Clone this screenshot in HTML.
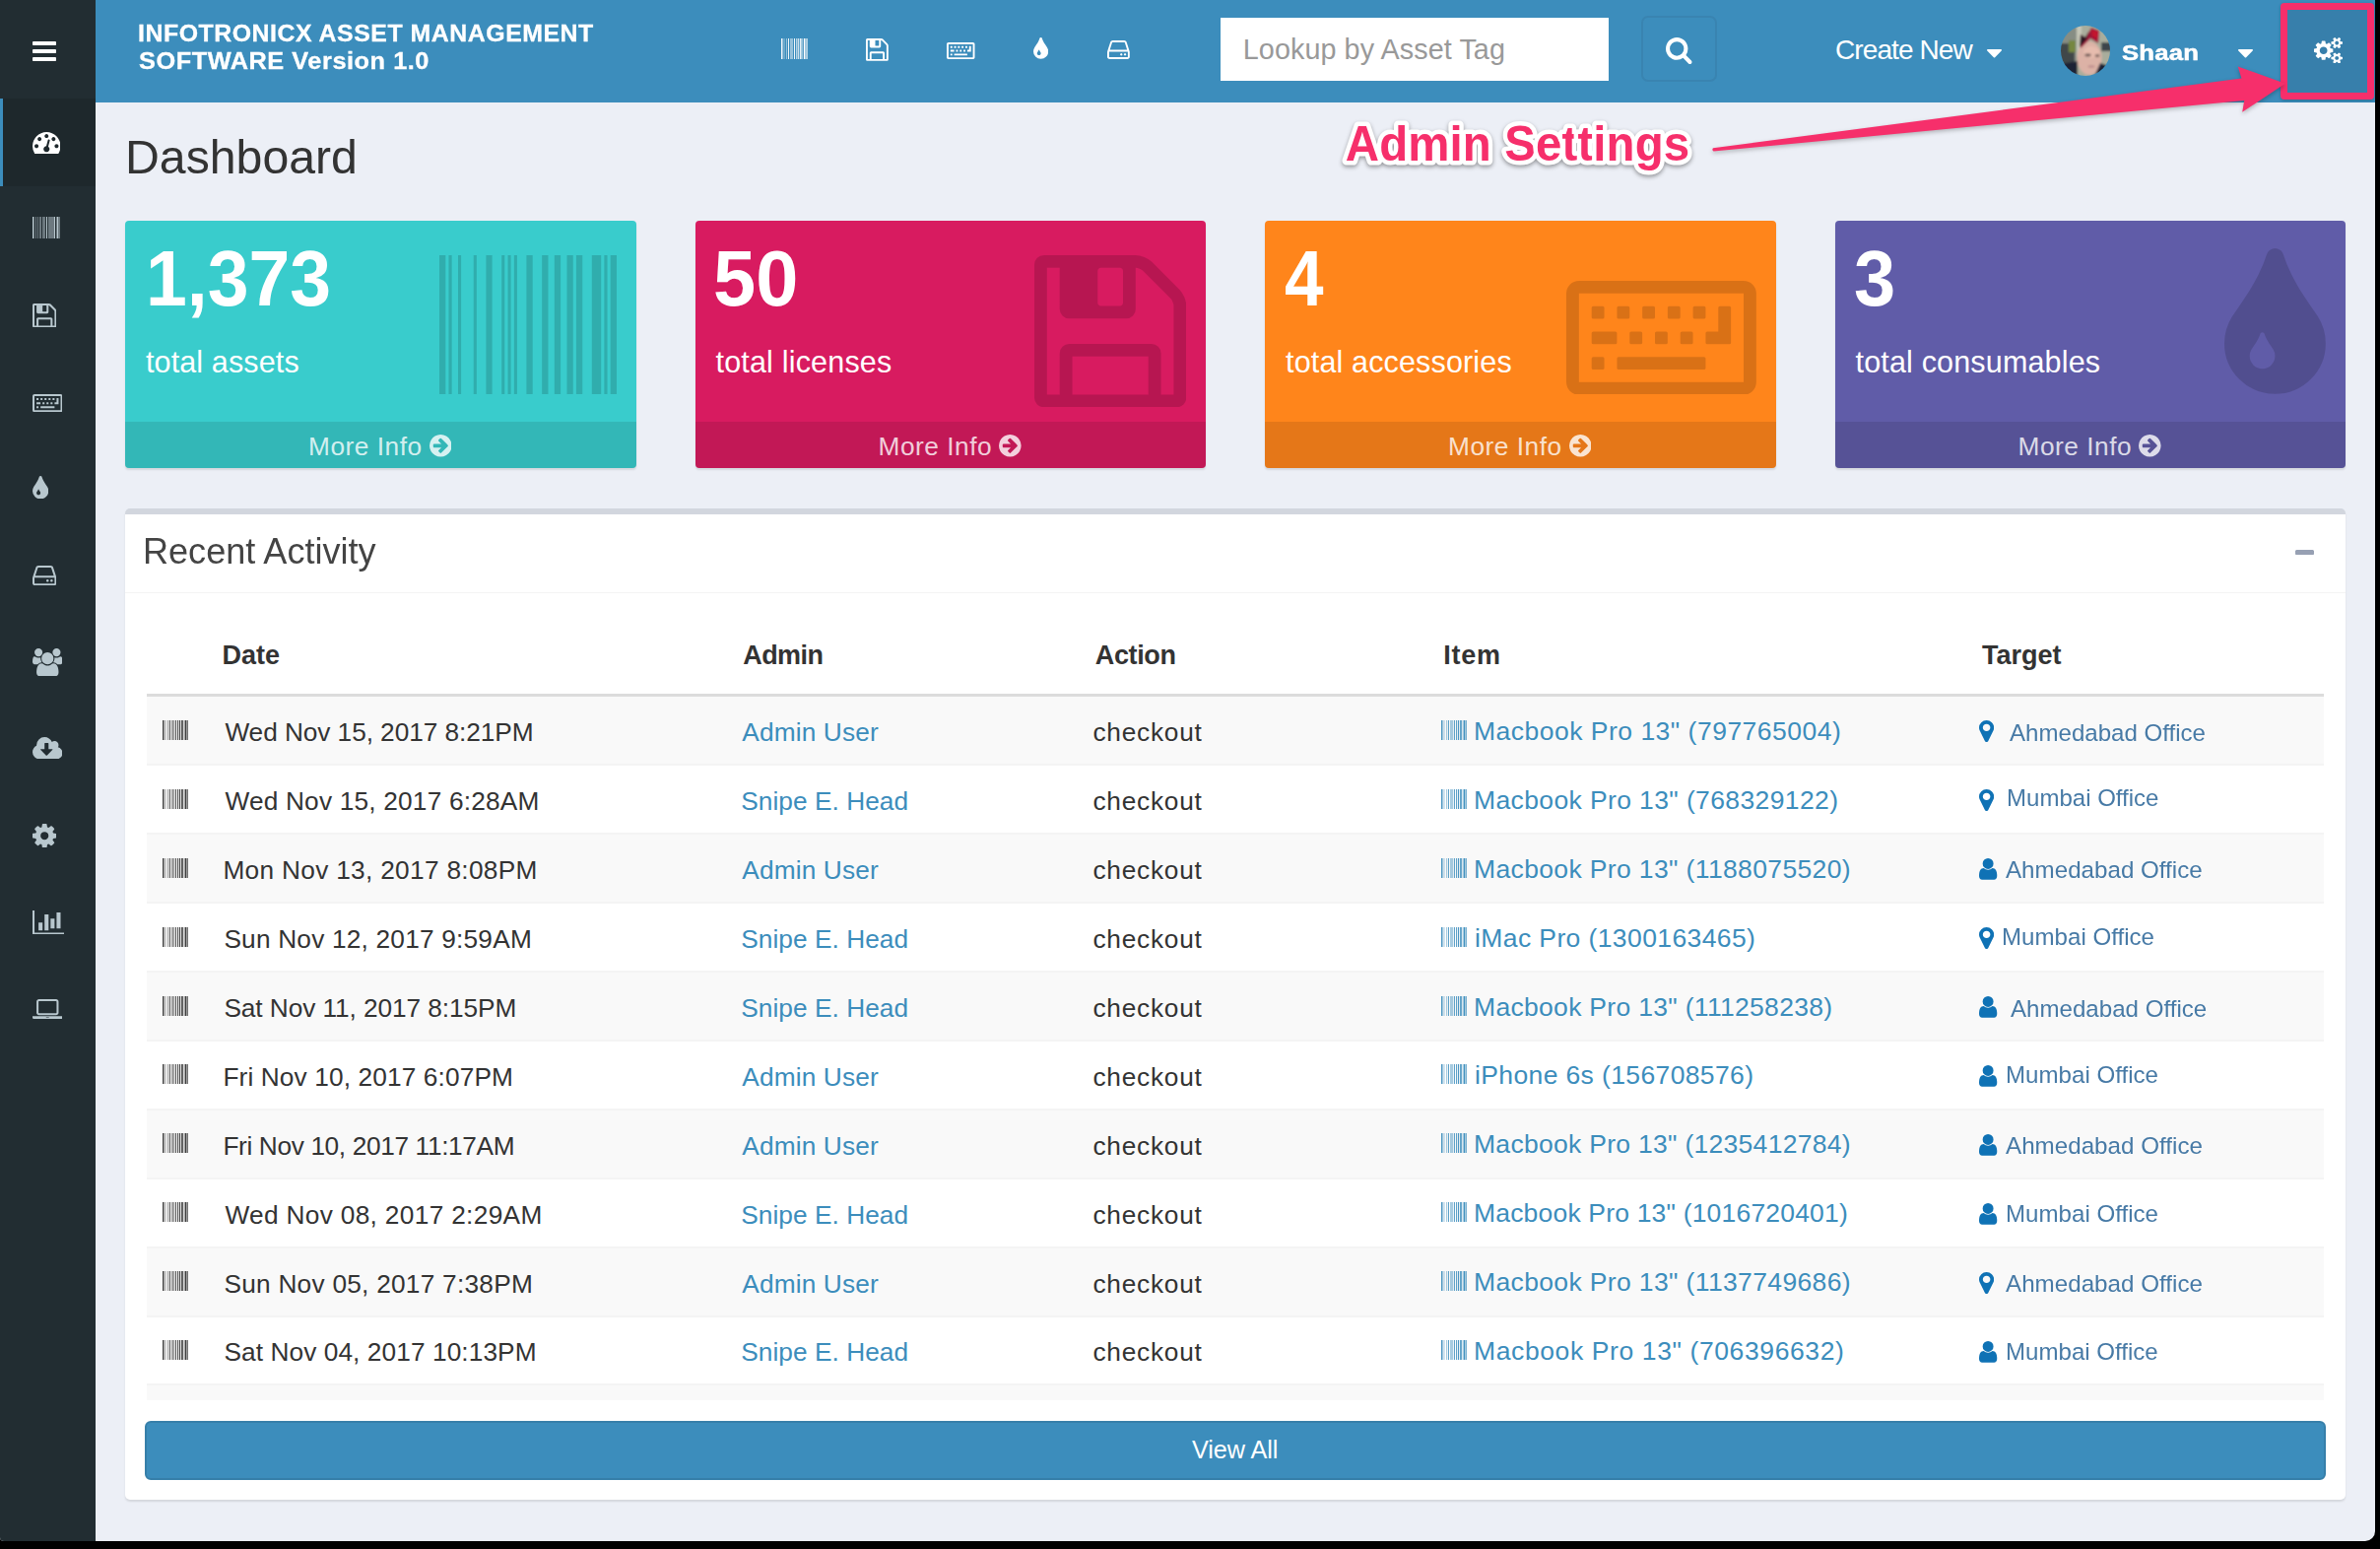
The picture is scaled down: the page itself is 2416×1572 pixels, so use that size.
<!DOCTYPE html>
<html lang="en"><head><meta charset="utf-8"><title>Dashboard</title>
<style>
html,body{margin:0;padding:0;background:#000;}
body{width:2416px;height:1572px;overflow:hidden;position:relative;font-family:"Liberation Sans", sans-serif;}
#app{position:absolute;left:0;top:0;width:2411px;height:1564px;background:#eceff6;border-radius:0 0 10px 4px;overflow:hidden;}
#app div,#app svg,#app span{position:absolute;display:block;}
#app span{white-space:pre;line-height:1;}
</style></head><body><div id="app">
<aside id="sidebar">
<div style="left:0px;top:0px;width:97px;height:1564px;background:#222d32;"></div>
<div style="left:0px;top:100px;width:97px;height:88.5px;background:#1e282c;"></div>
<div style="left:0px;top:100px;width:3px;height:88.5px;background:#3c8dbc;"></div>
<svg style="left:33.00px;top:42.00px;" width="24.00" height="20.00" viewBox="128 256 1536 1280" preserveAspectRatio="none"><path fill="#fff" d="M1664 1344v128q0 26-19 45t-45 19h-1408q-26 0-45-19t-19-45v-128q0-26 19-45t45-19h1408q26 0 45 19t19 45zm0-512v128q0 26-19 45t-45 19h-1408q-26 0-45-19t-19-45v-128q0-26 19-45t45-19h1408q26 0 45 19t19 45zm0-512v128q0 26-19 45t-45 19h-1408q-26 0-45-19t-19-45v-128q0-26 19-45t45-19h1408q26 0 45 19t19 45z"/></svg>
<svg style="left:32.80px;top:133.87px;" width="28.50" height="22.39" viewBox="0 256 1792 1408" preserveAspectRatio="none"><path fill="#fff" d="M384 1152q0-53-37.500-90.500t-90.500-37.500-90.500 37.500-37.500 90.500 37.500 90.500 90.500 37.500 90.500-37.500 37.500-90.500zm192-448q0-53-37.500-90.500t-90.500-37.500-90.500 37.500-37.500 90.500 37.500 90.500 90.500 37.500 90.500-37.500 37.500-90.500zm428 481l101-382q6-26-7.500-48.500t-38.500-29.500-48 6.500-30 39.500l-101 382q-60 5-107 43.500t-63 98.500q-20 77 20 146t117 89 146-20 89-117q16-60-6-117t-72-91zm660-33q0-53-37.500-90.500t-90.500-37.500-90.500 37.500-37.500 90.500 37.500 90.500 90.500 37.500 90.500-37.500 37.500-90.500zm-640-640q0-53-37.500-90.500t-90.500-37.500-90.500 37.500-37.500 90.500 37.500 90.500 90.500 37.500 90.500-37.500 37.500-90.500zm448 192q0-53-37.500-90.500t-90.500-37.500-90.500 37.500-37.500 90.500 37.500 90.500 90.500 37.500 90.500-37.500 37.500-90.500zm320 448q0 261-141 483-19 29-54 29h-1402q-35 0-54-29-141-221-141-483 0-182 71-348t191-286 286-191 348-71 348 71 286 191 191 286 71 348z"/></svg>
<svg style="left:32.80px;top:219.84px;" width="28.50" height="22.39" viewBox="0 128 1792 1408" preserveAspectRatio="none"><path fill="#b8c7ce" d="M63 1536h-63v-1408h63v1408zm63-1h-32v-1407h32v1407zm94 0h-31v-1407h31v1407zm157 0h-31v-1407h31v1407zm157 0h-62v-1407h62v1407zm126 0h-31v-1407h31v1407zm63 0h-31v-1407h31v1407zm63 0h-31v-1407h31v1407zm157 0h-63v-1407h63v1407zm157 0h-63v-1407h63v1407zm126 0h-63v-1407h63v1407zm126 0h-63v-1407h63v1407zm94 0h-63v-1407h63v1407zm189 0h-94v-1407h94v1407zm63 0h-32v-1407h32v1407zm94 1h-63v-1408h63v1408z"/></svg>
<svg style="left:32.80px;top:307.84px;" width="24.43" height="24.43" viewBox="128 128 1536 1536" preserveAspectRatio="none"><path fill="#b8c7ce" d="M512 1536h768v-384h-768v384zm896 0h128v-896q0-14-10-38.500t-20-34.500l-281-281q-10-10-34-20t-39-10v416q0 40-28 68t-68 28h-576q-40 0-68-28t-28-68v-416h-128v1280h128v-416q0-40 28-68t68-28h832q40 0 68 28t28 68v416zm-384-928v-320q0-13-9.500-22.500t-22.500-9.500h-192q-13 0-22.500 9.500t-9.500 22.500v320q0 13 9.500 22.500t22.500 9.500h192q13 0 22.500-9.500t9.500-22.500zm640 32v928q0 40-28 68t-68 28h-1344q-40 0-68-28t-28-68v-1344q0-40 28-68t68-28h928q40 0 88 20t76 48l280 280q28 28 48 76t20 88z"/></svg>
<svg style="left:32.80px;top:399.91px;" width="30.54" height="18.32" viewBox="0 384 1920 1152" preserveAspectRatio="none"><path fill="#b8c7ce" d="M384 1168v96q0 16-16 16h-96q-16 0-16-16v-96q0-16 16-16h96q16 0 16 16zm128-256v96q0 16-16 16h-224q-16 0-16-16v-96q0-16 16-16h224q16 0 16 16zm-128-256v96q0 16-16 16h-96q-16 0-16-16v-96q0-16 16-16h96q16 0 16 16zm1024 512v96q0 16-16 16h-864q-16 0-16-16v-96q0-16 16-16h864q16 0 16 16zm-640-256v96q0 16-16 16h-96q-16 0-16-16v-96q0-16 16-16h96q16 0 16 16zm-128-256v96q0 16-16 16h-96q-16 0-16-16v-96q0-16 16-16h96q16 0 16 16zm384 256v96q0 16-16 16h-96q-16 0-16-16v-96q0-16 16-16h96q16 0 16 16zm-128-256v96q0 16-16 16h-96q-16 0-16-16v-96q0-16 16-16h96q16 0 16 16zm384 256v96q0 16-16 16h-96q-16 0-16-16v-96q0-16 16-16h96q16 0 16 16zm384 512v96q0 16-16 16h-96q-16 0-16-16v-96q0-16 16-16h96q16 0 16 16zm-512-768v96q0 16-16 16h-96q-16 0-16-16v-96q0-16 16-16h96q16 0 16 16zm256 0v96q0 16-16 16h-96q-16 0-16-16v-96q0-16 16-16h96q16 0 16 16zm256 0v352q0 16-16 16h-224q-16 0-16-16v-96q0-16 16-16h112v-240q0-16 16-16h96q16 0 16 16zm128 752v-896h-1664v896h1664zm128-896v896q0 53-37.500 90.500t-90.500 37.500h-1664q-53 0-90.500-37.500t-37.500-90.500v-896q0-53 37.500-90.500t90.500-37.500h1664q53 0 90.500 37.500t37.500 90.500z"/></svg>
<svg style="left:32.80px;top:482.82px;" width="16.29" height="23.41" viewBox="384 64 1024 1472" preserveAspectRatio="none"><path fill="#b8c7ce" d="M896 1152q0-36-20-69-1-1-15.500-22.500t-25.500-38-25-44-21-50.500q-4-16-21-16t-21 16q-7 23-21 50.500t-25 44-25.500 38-15.500 22.500q-20 33-20 69 0 53 37.500 90.500t90.500 37.500 90.500-37.500 37.500-90.500zm512-128q0 212-150 362t-362 150-362-150-150-362q0-145 81-275 6-9 62.500-90.500t101-151 99.500-178 83-201.500q9-30 34-47t51-17 51.500 17 33.500 47q28 93 83 201.500t99.500 178 101 151 62.500 90.500q81 127 81 275z"/></svg>
<svg style="left:32.80px;top:573.87px;" width="24.43" height="20.36" viewBox="0 256 1536 1280" preserveAspectRatio="none"><path fill="#b8c7ce" d="M1040 1216q0 33-23.500 56.500t-56.500 23.500-56.500-23.500-23.500-56.500 23.500-56.500 56.500-23.500 56.500 23.500 23.500 56.500zm256 0q0 33-23.500 56.500t-56.500 23.500-56.500-23.500-23.500-56.500 23.500-56.500 56.500-23.500 56.500 23.500 23.500 56.500zm112 160v-320q0-13-9.500-22.500t-22.500-9.500h-1216q-13 0-22.500 9.500t-9.500 22.500v320q0 13 9.500 22.500t22.500 9.500h1216q13 0 22.500-9.500t9.500-22.500zm-1230-480h1180l-157-482q-4-13-16-21.500t-26-8.500h-782q-14 0-26 8.500t-16 21.500zm1358 160v320q0 66-47 113t-113 47h-1216q-66 0-113-47t-47-113v-320q0-25 16-75l197-606q17-53 63-86t101-33h782q55 0 101 33t63 86l197 606q16 50 16 75z"/></svg>
<svg style="left:32.80px;top:657.80px;" width="30.54" height="28.50" viewBox="0 0 1920 1792" preserveAspectRatio="none"><path fill="#b8c7ce" d="M593 896q-162 5-265 128h-134q-82 0-138-40.500t-56-118.500q0-353 124-353 6 0 43.500 21t97.500 42.500 119 21.500q67 0 133-23-5 37-5 66 0 139 81 256zm1071 637q0 120-73 189.500t-194 69.500h-874q-121 0-194-69.500t-73-189.500q0-53 3.500-103.500t14-109 26.500-108.500 43-97.500 62-81 85.500-53.500 111.500-20q10 0 43 21.500t73 48 107 48 135 21.500 135-21.500 107-48 73-48 43-21.500q61 0 111.500 20t85.500 53.500 62 81 43 97.500 26.500 108.500 14 109 3.500 103.500zm-1024-1277q0 106-75 181t-181 75-181-75-75-181 75-181 181-75 181 75 75 181zm704 384q0 159-112.500 271.500t-271.500 112.500-271.500-112.500-112.500-271.500 112.500-271.500 271.500-112.500 271.500 112.500 112.500 271.500zm576 225q0 78-56 118.500t-138 40.500h-134q-103-123-265-128 81-117 81-256 0-29-5-66 66 23 133 23 59 0 119-21.500t97.500-42.500 43.500-21q124 0 124 353zm-128-609q0 106-75 181t-181 75-181-75-75-181 75-181 181-75 181 75 75 181z"/></svg>
<svg style="left:32.80px;top:747.84px;" width="30.54" height="22.39" viewBox="0 128 1920 1408" preserveAspectRatio="none"><path fill="#b8c7ce" d="M1280 928q0-14-9-23t-23-9h-224v-352q0-13-9.500-22.500t-22.500-9.500h-192q-13 0-22.500 9.500t-9.500 22.500v352h-224q-13 0-22.500 9.500t-9.500 22.500q0 14 9 23l352 352q9 9 23 9t23-9l351-351q10-12 10-24zm640 224q0 159-112.500 271.500t-271.500 112.500h-1088q-185 0-316.500-131.500t-131.500-316.500q0-130 70-240t188-165q-2-30-2-43 0-212 150-362t362-150q156 0 285.500 87t188.500 231q71-62 166-62 106 0 181 75t75 181q0 76-41 138 130 31 213.500 135.500t83.500 238.500z"/></svg>
<svg style="left:32.80px;top:835.84px;" width="24.43" height="24.43" viewBox="128 128 1536 1536" preserveAspectRatio="none"><path fill="#b8c7ce" d="M1152 896q0-106-75-181t-181-75-181 75-75 181 75 181 181 75 181-75 75-181zm512-109v222q0 12-8 23t-20 13l-185 28q-19 54-39 91 35 50 107 138 10 12 10 25t-9 23q-27 37-99 108t-94 71q-12 0-26-9l-138-108q-44 23-91 38-16 136-29 186-7 28-36 28h-222q-14 0-24.500-8.500t-11.500-21.500l-28-184q-49-16-90-37l-141 107q-10 9-25 9-14 0-25-11-126-114-165-168-7-10-7-23 0-12 8-23 15-21 51-66.500t54-70.500q-27-50-41-99l-183-27q-13-2-21-12.500t-8-23.500v-222q0-12 8-23t19-13l186-28q14-46 39-92-40-57-107-138-10-12-10-24 0-10 9-23 26-36 98.500-107.500t94.500-71.500q13 0 26 10l138 107q44-23 91-38 16-136 29-186 7-28 36-28h222q14 0 24.500 8.500t11.500 21.500l28 184q49 16 90 37l142-107q9-9 24-9 13 0 25 10 129 119 165 170 7 8 7 22 0 12-8 23-15 21-51 66.500t-54 70.500q26 50 41 98l183 28q13 2 21 12.500t8 23.500z"/></svg>
<svg style="left:32.80px;top:923.84px;" width="32.57" height="24.43" viewBox="0 128 2048 1536" preserveAspectRatio="none"><path fill="#b8c7ce" d="M640 896v512h-256v-512h256zm384-512v1024h-256v-1024h256zm1024 1152v128h-2048v-1536h128v1408h1920zm-640-896v640h-256v-640h256zm384-384v1024h-256v-1024h256z"/></svg>
<svg style="left:32.80px;top:1013.87px;" width="30.54" height="20.36" viewBox="0 256 1920 1280" preserveAspectRatio="none"><path fill="#b8c7ce" d="M416 1280q-66 0-113-47t-47-113v-704q0-66 47-113t113-47h1088q66 0 113 47t47 113v704q0 66-47 113t-113 47h-1088zm-32-864v704q0 13 9.500 22.500t22.500 9.500h1088q13 0 22.500-9.500t9.500-22.500v-704q0-13-9.500-22.500t-22.500-9.500h-1088q-13 0-22.500 9.500t-9.500 22.500zm1376 928h160v96q0 40-47 68t-113 28h-1600q-66 0-113-28t-47-68v-96h1760zm-720 96q16 0 16-16t-16-16h-160q-16 0-16 16t16 16h160z"/></svg>
</aside>
<header id="topbar">
<div style="left:97px;top:0px;width:2314px;height:104px;background:#3c8dbc;"></div>
<svg style="left:793.00px;top:39.00px;" width="26.60" height="20.90" viewBox="0 128 1792 1408" preserveAspectRatio="none"><path fill="#fff" d="M63 1536h-63v-1408h63v1408zm63-1h-32v-1407h32v1407zm94 0h-31v-1407h31v1407zm157 0h-31v-1407h31v1407zm157 0h-62v-1407h62v1407zm126 0h-31v-1407h31v1407zm63 0h-31v-1407h31v1407zm63 0h-31v-1407h31v1407zm157 0h-63v-1407h63v1407zm157 0h-63v-1407h63v1407zm126 0h-63v-1407h63v1407zm126 0h-63v-1407h63v1407zm94 0h-63v-1407h63v1407zm189 0h-94v-1407h94v1407zm63 0h-32v-1407h32v1407zm94 1h-63v-1408h63v1408z"/></svg>
<svg style="left:879.00px;top:39.00px;" width="22.80" height="22.80" viewBox="128 128 1536 1536" preserveAspectRatio="none"><path fill="#fff" d="M512 1536h768v-384h-768v384zm896 0h128v-896q0-14-10-38.500t-20-34.500l-281-281q-10-10-34-20t-39-10v416q0 40-28 68t-68 28h-576q-40 0-68-28t-28-68v-416h-128v1280h128v-416q0-40 28-68t68-28h832q40 0 68 28t28 68v416zm-384-928v-320q0-13-9.500-22.500t-22.500-9.500h-192q-13 0-22.500 9.500t-9.500 22.500v320q0 13 9.500 22.500t22.500 9.500h192q13 0 22.500-9.500t9.500-22.500zm640 32v928q0 40-28 68t-68 28h-1344q-40 0-68-28t-28-68v-1344q0-40 28-68t68-28h928q40 0 88 20t76 48l280 280q28 28 48 76t20 88z"/></svg>
<svg style="left:961.00px;top:42.80px;" width="28.50" height="17.10" viewBox="0 384 1920 1152" preserveAspectRatio="none"><path fill="#fff" d="M384 1168v96q0 16-16 16h-96q-16 0-16-16v-96q0-16 16-16h96q16 0 16 16zm128-256v96q0 16-16 16h-224q-16 0-16-16v-96q0-16 16-16h224q16 0 16 16zm-128-256v96q0 16-16 16h-96q-16 0-16-16v-96q0-16 16-16h96q16 0 16 16zm1024 512v96q0 16-16 16h-864q-16 0-16-16v-96q0-16 16-16h864q16 0 16 16zm-640-256v96q0 16-16 16h-96q-16 0-16-16v-96q0-16 16-16h96q16 0 16 16zm-128-256v96q0 16-16 16h-96q-16 0-16-16v-96q0-16 16-16h96q16 0 16 16zm384 256v96q0 16-16 16h-96q-16 0-16-16v-96q0-16 16-16h96q16 0 16 16zm-128-256v96q0 16-16 16h-96q-16 0-16-16v-96q0-16 16-16h96q16 0 16 16zm384 256v96q0 16-16 16h-96q-16 0-16-16v-96q0-16 16-16h96q16 0 16 16zm384 512v96q0 16-16 16h-96q-16 0-16-16v-96q0-16 16-16h96q16 0 16 16zm-512-768v96q0 16-16 16h-96q-16 0-16-16v-96q0-16 16-16h96q16 0 16 16zm256 0v96q0 16-16 16h-96q-16 0-16-16v-96q0-16 16-16h96q16 0 16 16zm256 0v352q0 16-16 16h-224q-16 0-16-16v-96q0-16 16-16h112v-240q0-16 16-16h96q16 0 16 16zm128 752v-896h-1664v896h1664zm128-896v896q0 53-37.500 90.500t-90.500 37.500h-1664q-53 0-90.500-37.500t-37.500-90.500v-896q0-53 37.500-90.500t90.500-37.500h1664q53 0 90.500 37.500t37.500 90.500z"/></svg>
<svg style="left:1049.00px;top:38.05px;" width="15.20" height="21.85" viewBox="384 64 1024 1472" preserveAspectRatio="none"><path fill="#fff" d="M896 1152q0-36-20-69-1-1-15.500-22.500t-25.500-38-25-44-21-50.500q-4-16-21-16t-21 16q-7 23-21 50.500t-25 44-25.500 38-15.500 22.500q-20 33-20 69 0 53 37.500 90.500t90.500 37.500 90.500-37.500 37.500-90.500zm512-128q0 212-150 362t-362 150-362-150-150-362q0-145 81-275 6-9 62.500-90.500t101-151 99.500-178 83-201.500q9-30 34-47t51-17 51.500 17 33.500 47q28 93 83 201.500t99.500 178 101 151 62.500 90.500q81 127 81 275z"/></svg>
<svg style="left:1124.00px;top:40.90px;" width="22.80" height="19.00" viewBox="0 256 1536 1280" preserveAspectRatio="none"><path fill="#fff" d="M1040 1216q0 33-23.500 56.500t-56.500 23.500-56.500-23.500-23.500-56.500 23.500-56.500 56.500-23.500 56.500 23.500 23.500 56.500zm256 0q0 33-23.500 56.500t-56.500 23.500-56.500-23.500-23.500-56.500 23.500-56.500 56.500-23.500 56.500 23.500 23.500 56.500zm112 160v-320q0-13-9.500-22.500t-22.500-9.500h-1216q-13 0-22.500 9.500t-9.500 22.500v320q0 13 9.500 22.500t22.500 9.500h1216q13 0 22.500-9.500t9.500-22.500zm-1230-480h1180l-157-482q-4-13-16-21.500t-26-8.500h-782q-14 0-26 8.500t-16 21.500zm1358 160v320q0 66-47 113t-113 47h-1216q-66 0-113-47t-47-113v-320q0-25 16-75l197-606q17-53 63-86t101-33h782q55 0 101 33t63 86l197 606q16 50 16 75z"/></svg>
<div style="left:1238.75px;top:18px;width:394.25px;height:63.75px;background:#fff;"></div>
<div style="left:1665.5px;top:16px;width:77.5px;height:67px;background:#3c8dbc;border:2px solid #3984b1;border-radius:7px;box-sizing:border-box;"></div>
<svg style="left:1691.00px;top:37.50px;" width="26.50" height="27.00" viewBox="64 128 1664 1664" preserveAspectRatio="none"><path fill="#fff" d="M1216 832q0-185-131.500-316.500t-316.500-131.500-316.500 131.500-131.500 316.500 131.500 316.500 316.500 131.500 316.500-131.500 131.500-316.500zm512 832q0 52-38 90t-90 38q-54 0-90-38l-343-342q-179 124-399 124-143 0-273.500-55.500t-225-150-150-225-55.500-273.500 55.500-273.500 150-225 225-150 273.500-55.500 273.500 55.500 225 150 150 225 55.500 273.500q0 220-124 399l343 343q37 37 37 90z"/></svg>
<svg style="left:2017.00px;top:50.00px;" width="15.00" height="8.50" viewBox="384 640 1024 576" preserveAspectRatio="none"><path fill="#fff" d="M1408 704q0 26-19 45l-448 448q-19 19-45 19t-45-19l-448-448q-19-19-19-45t19-45 45-19h896q26 0 45 19t19 45z"/></svg>
<svg style="left:2092px;top:25.5px" width="50" height="51" viewBox="0 0 50 51"><defs><clipPath id="av"><ellipse cx="25" cy="25.5" rx="25" ry="25.5"/></clipPath><filter id="avb" x="-10%" y="-10%" width="120%" height="120%"><feGaussianBlur stdDeviation="1.1"/></filter></defs><g clip-path="url(#av)"><g filter="url(#avb)"><rect x="-5" y="-5" width="60" height="61" fill="#a9ad9c"/><rect x="-5" y="-5" width="21" height="61" fill="#868d84"/><rect x="-5" y="18" width="19" height="26" fill="#41464a"/><rect x="8" y="15" width="7" height="12" fill="#74873f"/><rect x="41" y="17" width="14" height="9" fill="#3d444b"/><rect x="16" y="0" width="5" height="32" fill="#c6c7b8"/><ellipse cx="29" cy="33" rx="12.5" ry="17" fill="#dcb2a6"/><ellipse cx="31" cy="27" rx="8" ry="6" fill="#e6bcae"/><path d="M20 23 L20 9 L25 12 L31 2 L39 5 L38 18 L30 13 Z" fill="#9c1238"/><path d="M31 4 L38 6 L37 14 L32 11 Z" fill="#c4122f"/><path d="M19 22 L20 9 L25 12 L28 6 L26 14 Z" fill="#2a1820"/><path d="M-5 40 L17 36 L17 56 L-5 56 Z" fill="#1a2236"/><path d="M32 56 L40 38 L55 43 L55 56 Z" fill="#1a2236"/><ellipse cx="27.5" cy="30" rx="3.2" ry="1.4" fill="#6b5652"/><ellipse cx="37" cy="30.5" rx="2.4" ry="1.3" fill="#6b5652"/><ellipse cx="31" cy="41.5" rx="3.5" ry="1.1" fill="#b88588"/></g></g></svg>
<svg style="left:2272.00px;top:50.00px;" width="15.00" height="8.50" viewBox="384 640 1024 576" preserveAspectRatio="none"><path fill="#fff" d="M1408 704q0 26-19 45l-448 448q-19 19-45 19t-45-19l-448-448q-19-19-19-45t19-45 45-19h896q26 0 45 19t19 45z"/></svg>
<div style="left:2318px;top:6px;width:89px;height:92px;background:#377fab;"></div>
<svg style="left:2349.00px;top:37.50px;" width="29.00" height="26.50" viewBox="0 16 1920 1761" preserveAspectRatio="none"><path fill="#fff" d="M896 896q0-106-75-181t-181-75-181 75-75 181 75 181 181 75 181-75 75-181zm768 512q0-52-38-90t-90-38-90 38-38 90q0 53 37.500 90.500t90.500 37.500 90.500-37.500 37.500-90.500zm0-1024q0-52-38-90t-90-38-90 38-38 90q0 53 37.500 90.500t90.500 37.500 90.500-37.500 37.500-90.500zm-384 421v185q0 10-7 19.500t-16 10.500l-155 24q-11 35-32 76 34 48 90 115 7 11 7 20 0 12-7 19-23 30-82.500 89.500t-78.500 59.500q-11 0-21-7l-115-90q-37 19-77 31-11 108-23 155-7 24-30 24h-186q-11 0-20-7.500t-10-17.500l-23-153q-34-10-75-31l-118 89q-7 7-20 7-11 0-21-8-144-133-144-160 0-9 7-19 10-14 41-53t47-61q-23-44-35-82l-152-24q-10-1-17-9.500t-7-19.500v-185q0-10 7-19.500t16-10.500l155-24q11-35 32-76-34-48-90-115-7-11-7-20 0-12 7-20 22-30 82-89t79-59q11 0 21 7l115 90q34-18 77-32 11-108 23-154 7-24 30-24h186q11 0 20 7.500t10 17.500l23 153q34 10 75 31l118-89q8-7 20-7 11 0 21 8 144 133 144 160 0 8-7 19-12 16-42 54t-45 60q23 48 34 82l152 23q10 2 17 10.500t7 19.500zm640 533v140q0 16-149 31-12 27-30 52 51 113 51 138 0 4-4 7-122 71-124 71-8 0-46-47t-52-68q-20 2-30 2t-30-2q-14 21-52 68t-46 47q-2 0-124-71-4-3-4-7 0-25 51-138-18-25-30-52-149-15-149-31v-140q0-16 149-31 13-29 30-52-51-113-51-138 0-4 4-7 4-2 35-20t59-34 30-16q8 0 46 46.500t52 67.500q20-2 30-2t30 2q51-71 92-112l6-2q4 0 124 70 4 3 4 7 0 25-51 138 17 23 30 52 149 15 149 31zm0-1024v140q0 16-149 31-12 27-30 52 51 113 51 138 0 4-4 7-122 71-124 71-8 0-46-47t-52-68q-20 2-30 2t-30-2q-14 21-52 68t-46 47q-2 0-124-71-4-3-4-7 0-25 51-138-18-25-30-52-149-15-149-31v-140q0-16 149-31 13-29 30-52-51-113-51-138 0-4 4-7 4-2 35-20t59-34 30-16q8 0 46 46.500t52 67.500q20-2 30-2t30 2q51-71 92-112l6-2q4 0 124 70 4 3 4 7 0 25-51 138 17 23 30 52 149 15 149 31z"/></svg>
<span style="left:140.03px;top:23.01px;font-size:23.25px;font-weight:bold;color:#fff;letter-spacing:0.500px;-webkit-text-stroke:0.3px #fff;transform:scaleX(1.0690);transform-origin:0 0;">INFOTRONICX ASSET MANAGEMENT</span>
<span style="left:141.10px;top:51.00px;font-size:23.25px;font-weight:bold;color:#fff;letter-spacing:0.500px;-webkit-text-stroke:0.3px #fff;transform:scaleX(1.0885);transform-origin:0 0;">SOFTWARE Version 1.0</span>
<span style="left:1261.75px;top:36.01px;font-size:28.75px;font-weight:normal;color:#999;letter-spacing:0.074px;">Lookup by Asset Tag</span>
<span style="left:1863.00px;top:37.00px;font-size:28px;font-weight:normal;color:#fff;letter-spacing:-0.901px;">Create New</span>
<span style="left:2154.00px;top:43.00px;font-size:21.75px;font-weight:bold;color:#fff;letter-spacing:0.200px;-webkit-text-stroke:0.5px #fff;transform:scaleX(1.1808);transform-origin:0 0;">Shaan</span>
</header>
<main id="content">
<div style="left:127px;top:224.25px;width:518.75px;height:250.75px;background:#39cccc;border-radius:4px;box-shadow:0 2px 2px rgba(0,0,0,.1);"></div>
<div style="left:127px;top:428px;width:518.75px;height:47px;background:rgba(0,0,0,.1);border-radius:0 0 4px 4px;"></div>
<svg style="left:445.75px;top:258.86px;" width="180.00" height="141.43" viewBox="0 128 1792 1408" preserveAspectRatio="none"><path fill="rgba(0,0,0,.15)" d="M63 1536h-63v-1408h63v1408zm63-1h-32v-1407h32v1407zm94 0h-31v-1407h31v1407zm157 0h-31v-1407h31v1407zm157 0h-62v-1407h62v1407zm126 0h-31v-1407h31v1407zm63 0h-31v-1407h31v1407zm63 0h-31v-1407h31v1407zm157 0h-63v-1407h63v1407zm157 0h-63v-1407h63v1407zm126 0h-63v-1407h63v1407zm126 0h-63v-1407h63v1407zm94 0h-63v-1407h63v1407zm189 0h-94v-1407h94v1407zm63 0h-32v-1407h32v1407zm94 1h-63v-1408h63v1408z"/></svg>
<svg style="left:435.75px;top:441.00px;" width="22.60" height="22.60" viewBox="128 128 1536 1536" preserveAspectRatio="none"><path fill="rgba(255,255,255,.8)" d="M1413 896q0-27-18-45l-91-91-362-362q-18-18-45-18t-45 18l-91 91q-18 18-18 45t18 45l189 189h-502q-26 0-45 19t-19 45v128q0 26 19 45t45 19h502l-189 189q-19 19-19 45t19 45l91 91q18 18 45 18t45-18l362-362 91-91q18-18 18-45zm251 0q0 209-103 385.500t-279.500 279.500-385.500 103-385.500-103-279.500-279.500-103-385.500 103-385.500 279.500-279.500 385.500-103 385.500 103 279.500 279.500 103 385.500z"/></svg>
<div style="left:705.5px;top:224.25px;width:518.75px;height:250.75px;background:#d81b60;border-radius:4px;box-shadow:0 2px 2px rgba(0,0,0,.1);"></div>
<div style="left:705.5px;top:428px;width:518.75px;height:47px;background:rgba(0,0,0,.1);border-radius:0 0 4px 4px;"></div>
<svg style="left:1049.96px;top:258.86px;" width="154.29" height="154.29" viewBox="128 128 1536 1536" preserveAspectRatio="none"><path fill="rgba(0,0,0,.15)" d="M512 1536h768v-384h-768v384zm896 0h128v-896q0-14-10-38.500t-20-34.500l-281-281q-10-10-34-20t-39-10v416q0 40-28 68t-68 28h-576q-40 0-68-28t-28-68v-416h-128v1280h128v-416q0-40 28-68t68-28h832q40 0 68 28t28 68v416zm-384-928v-320q0-13-9.500-22.500t-22.500-9.500h-192q-13 0-22.500 9.500t-9.500 22.500v320q0 13 9.500 22.500t22.500 9.500h192q13 0 22.500-9.500t9.500-22.500zm640 32v928q0 40-28 68t-68 28h-1344q-40 0-68-28t-28-68v-1344q0-40 28-68t68-28h928q40 0 88 20t76 48l280 280q28 28 48 76t20 88z"/></svg>
<svg style="left:1014.25px;top:441.00px;" width="22.60" height="22.60" viewBox="128 128 1536 1536" preserveAspectRatio="none"><path fill="rgba(255,255,255,.8)" d="M1413 896q0-27-18-45l-91-91-362-362q-18-18-45-18t-45 18l-91 91q-18 18-18 45t18 45l189 189h-502q-26 0-45 19t-19 45v128q0 26 19 45t45 19h502l-189 189q-19 19-19 45t19 45l91 91q18 18 45 18t45-18l362-362 91-91q18-18 18-45zm251 0q0 209-103 385.500t-279.500 279.500-385.500 103-385.500-103-279.500-279.500-103-385.500 103-385.500 279.500-279.500 385.500-103 385.500 103 279.500 279.500 103 385.500z"/></svg>
<div style="left:1284px;top:224.25px;width:518.75px;height:250.75px;background:#ff851b;border-radius:4px;box-shadow:0 2px 2px rgba(0,0,0,.1);"></div>
<div style="left:1284px;top:428px;width:518.75px;height:47px;background:rgba(0,0,0,.1);border-radius:0 0 4px 4px;"></div>
<svg style="left:1589.89px;top:284.57px;" width="192.86" height="115.71" viewBox="0 384 1920 1152" preserveAspectRatio="none"><path fill="rgba(0,0,0,.15)" d="M384 1168v96q0 16-16 16h-96q-16 0-16-16v-96q0-16 16-16h96q16 0 16 16zm128-256v96q0 16-16 16h-224q-16 0-16-16v-96q0-16 16-16h224q16 0 16 16zm-128-256v96q0 16-16 16h-96q-16 0-16-16v-96q0-16 16-16h96q16 0 16 16zm1024 512v96q0 16-16 16h-864q-16 0-16-16v-96q0-16 16-16h864q16 0 16 16zm-640-256v96q0 16-16 16h-96q-16 0-16-16v-96q0-16 16-16h96q16 0 16 16zm-128-256v96q0 16-16 16h-96q-16 0-16-16v-96q0-16 16-16h96q16 0 16 16zm384 256v96q0 16-16 16h-96q-16 0-16-16v-96q0-16 16-16h96q16 0 16 16zm-128-256v96q0 16-16 16h-96q-16 0-16-16v-96q0-16 16-16h96q16 0 16 16zm384 256v96q0 16-16 16h-96q-16 0-16-16v-96q0-16 16-16h96q16 0 16 16zm384 512v96q0 16-16 16h-96q-16 0-16-16v-96q0-16 16-16h96q16 0 16 16zm-512-768v96q0 16-16 16h-96q-16 0-16-16v-96q0-16 16-16h96q16 0 16 16zm256 0v96q0 16-16 16h-96q-16 0-16-16v-96q0-16 16-16h96q16 0 16 16zm256 0v352q0 16-16 16h-224q-16 0-16-16v-96q0-16 16-16h112v-240q0-16 16-16h96q16 0 16 16zm128 752v-896h-1664v896h1664zm128-896v896q0 53-37.500 90.500t-90.500 37.500h-1664q-53 0-90.500-37.500t-37.500-90.500v-896q0-53 37.500-90.500t90.500-37.500h1664q53 0 90.500 37.500t37.500 90.500z"/></svg>
<svg style="left:1592.75px;top:441.00px;" width="22.60" height="22.60" viewBox="128 128 1536 1536" preserveAspectRatio="none"><path fill="rgba(255,255,255,.8)" d="M1413 896q0-27-18-45l-91-91-362-362q-18-18-45-18t-45 18l-91 91q-18 18-18 45t18 45l189 189h-502q-26 0-45 19t-19 45v128q0 26 19 45t45 19h502l-189 189q-19 19-19 45t19 45l91 91q18 18 45 18t45-18l362-362 91-91q18-18 18-45zm251 0q0 209-103 385.500t-279.500 279.500-385.500 103-385.500-103-279.500-279.500-103-385.500 103-385.500 279.500-279.500 385.500-103 385.500 103 279.500 279.500 103 385.500z"/></svg>
<div style="left:1862.5px;top:224.25px;width:518.75px;height:250.75px;background:#605ca8;border-radius:4px;box-shadow:0 2px 2px rgba(0,0,0,.1);"></div>
<div style="left:1862.5px;top:428px;width:518.75px;height:47px;background:rgba(0,0,0,.1);border-radius:0 0 4px 4px;"></div>
<svg style="left:2258.39px;top:252.43px;" width="102.86" height="147.86" viewBox="384 64 1024 1472" preserveAspectRatio="none"><path fill="rgba(0,0,0,.15)" d="M896 1152q0-36-20-69-1-1-15.500-22.500t-25.500-38-25-44-21-50.500q-4-16-21-16t-21 16q-7 23-21 50.500t-25 44-25.500 38-15.500 22.500q-20 33-20 69 0 53 37.500 90.500t90.500 37.500 90.500-37.500 37.500-90.500zm512-128q0 212-150 362t-362 150-362-150-150-362q0-145 81-275 6-9 62.500-90.500t101-151 99.500-178 83-201.500q9-30 34-47t51-17 51.500 17 33.500 47q28 93 83 201.500t99.500 178 101 151 62.500 90.500q81 127 81 275z"/></svg>
<svg style="left:2171.25px;top:441.00px;" width="22.60" height="22.60" viewBox="128 128 1536 1536" preserveAspectRatio="none"><path fill="rgba(255,255,255,.8)" d="M1413 896q0-27-18-45l-91-91-362-362q-18-18-45-18t-45 18l-91 91q-18 18-18 45t18 45l189 189h-502q-26 0-45 19t-19 45v128q0 26 19 45t45 19h502l-189 189q-19 19-19 45t19 45l91 91q18 18 45 18t45-18l362-362 91-91q18-18 18-45zm251 0q0 209-103 385.500t-279.500 279.500-385.500 103-385.500-103-279.500-279.500-103-385.500 103-385.500 279.500-279.500 385.500-103 385.500 103 279.500 279.500 103 385.500z"/></svg>
<span style="left:126.52px;top:135.01px;font-size:48.5px;font-weight:normal;color:#333;letter-spacing:0.000px;transform:scaleX(0.9944);transform-origin:0 0;">Dashboard</span>
<span style="left:147.78px;top:244.01px;font-size:78.75px;font-weight:bold;color:#fff;letter-spacing:0.000px;transform:scaleX(0.9544);transform-origin:0 0;">1,373</span>
<span style="left:148.00px;top:352.01px;font-size:30.5px;font-weight:normal;color:#fff;letter-spacing:0.125px;">total assets</span>
<span style="left:313.00px;top:440.01px;font-size:26.25px;font-weight:normal;color:rgba(255,255,255,.8);letter-spacing:0.527px;">More Info</span>
<span style="left:724.03px;top:244.01px;font-size:78.75px;font-weight:bold;color:#fff;letter-spacing:0.000px;transform:scaleX(0.9855);transform-origin:0 0;">50</span>
<span style="left:726.50px;top:352.01px;font-size:30.5px;font-weight:normal;color:#fff;letter-spacing:0.187px;">total licenses</span>
<span style="left:891.50px;top:440.01px;font-size:26.25px;font-weight:normal;color:rgba(255,255,255,.8);letter-spacing:0.527px;">More Info</span>
<span style="left:1303.80px;top:244.01px;font-size:78.75px;font-weight:bold;color:#fff;letter-spacing:0.000px;transform:scaleX(0.9023);transform-origin:0 0;">4</span>
<span style="left:1305.00px;top:352.01px;font-size:30.5px;font-weight:normal;color:#fff;letter-spacing:0.156px;">total accessories</span>
<span style="left:1470.00px;top:440.01px;font-size:26.25px;font-weight:normal;color:rgba(255,255,255,.8);letter-spacing:0.527px;">More Info</span>
<span style="left:1882.04px;top:244.01px;font-size:78.75px;font-weight:bold;color:#fff;letter-spacing:0.000px;transform:scaleX(0.9625);transform-origin:0 0;">3</span>
<span style="left:1883.50px;top:352.01px;font-size:30.5px;font-weight:normal;color:#fff;letter-spacing:0.170px;">total consumables</span>
<span style="left:2048.50px;top:440.01px;font-size:26.25px;font-weight:normal;color:rgba(255,255,255,.8);letter-spacing:0.527px;">More Info</span>
</main>
<section id="recent-activity">
<div style="left:127px;top:516px;width:2254.25px;height:1006px;background:#fff;border-top:6px solid #d2d6de;border-radius:5px;box-sizing:border-box;box-shadow:0 2px 2px rgba(0,0,0,.1);"></div>
<svg style="left:2330.00px;top:557.80px;" width="19.00" height="5.20" viewBox="192 640 1408 384" preserveAspectRatio="none"><path fill="#97a0b3" d="M1600 736v192q0 40-28 68t-68 28h-1216q-40 0-68-28t-28-68v-192q0-40 28-68t68-28h1216q40 0 68 28t28 68z"/></svg>
<div style="left:127px;top:600.5px;width:2254.25px;height:1.5px;background:#f4f4f4;"></div>
<div style="left:149px;top:704px;width:2210.25px;height:3px;background:#dcdcdc;"></div>
<div style="left:149px;top:707px;width:2210.25px;height:68px;background:#f9f9f9;"></div>
<svg style="left:165.00px;top:730.75px;" width="26.25" height="20.00" viewBox="0 128 1792 1408" preserveAspectRatio="none"><path fill="#333" d="M63 1536h-63v-1408h63v1408zm63-1h-32v-1407h32v1407zm94 0h-31v-1407h31v1407zm157 0h-31v-1407h31v1407zm157 0h-62v-1407h62v1407zm126 0h-31v-1407h31v1407zm63 0h-31v-1407h31v1407zm63 0h-31v-1407h31v1407zm157 0h-63v-1407h63v1407zm157 0h-63v-1407h63v1407zm126 0h-63v-1407h63v1407zm126 0h-63v-1407h63v1407zm94 0h-63v-1407h63v1407zm189 0h-94v-1407h94v1407zm63 0h-32v-1407h32v1407zm94 1h-63v-1408h63v1408z"/></svg>
<svg style="left:1463.00px;top:730.75px;" width="26.25" height="20.00" viewBox="0 128 1792 1408" preserveAspectRatio="none"><path fill="#3c8dbc" d="M63 1536h-63v-1408h63v1408zm63-1h-32v-1407h32v1407zm94 0h-31v-1407h31v1407zm157 0h-31v-1407h31v1407zm157 0h-62v-1407h62v1407zm126 0h-31v-1407h31v1407zm63 0h-31v-1407h31v1407zm63 0h-31v-1407h31v1407zm157 0h-63v-1407h63v1407zm157 0h-63v-1407h63v1407zm126 0h-63v-1407h63v1407zm126 0h-63v-1407h63v1407zm94 0h-63v-1407h63v1407zm189 0h-94v-1407h94v1407zm63 0h-32v-1407h32v1407zm94 1h-63v-1408h63v1408z"/></svg>
<svg style="left:2008.75px;top:730.80px;" width="15.20" height="22.00" viewBox="384 128 1024 1536" preserveAspectRatio="none"><path fill="#0f72b5" d="M1152 640q0-106-75-181t-181-75-181 75-75 181 75 181 181 75 181-75 75-181zm256 0q0 109-33 179l-364 774q-16 33-47.500 52t-67.500 19-67.500-19-46.500-52l-365-774q-33-70-33-179 0-212 150-362t362-150 362 150 150 362z"/></svg>
<div style="left:149px;top:775px;width:2210.25px;height:2px;background:#f4f4f4;"></div>
<svg style="left:165.00px;top:800.69px;" width="26.25" height="20.00" viewBox="0 128 1792 1408" preserveAspectRatio="none"><path fill="#333" d="M63 1536h-63v-1408h63v1408zm63-1h-32v-1407h32v1407zm94 0h-31v-1407h31v1407zm157 0h-31v-1407h31v1407zm157 0h-62v-1407h62v1407zm126 0h-31v-1407h31v1407zm63 0h-31v-1407h31v1407zm63 0h-31v-1407h31v1407zm157 0h-63v-1407h63v1407zm157 0h-63v-1407h63v1407zm126 0h-63v-1407h63v1407zm126 0h-63v-1407h63v1407zm94 0h-63v-1407h63v1407zm189 0h-94v-1407h94v1407zm63 0h-32v-1407h32v1407zm94 1h-63v-1408h63v1408z"/></svg>
<svg style="left:1463.00px;top:800.69px;" width="26.25" height="20.00" viewBox="0 128 1792 1408" preserveAspectRatio="none"><path fill="#3c8dbc" d="M63 1536h-63v-1408h63v1408zm63-1h-32v-1407h32v1407zm94 0h-31v-1407h31v1407zm157 0h-31v-1407h31v1407zm157 0h-62v-1407h62v1407zm126 0h-31v-1407h31v1407zm63 0h-31v-1407h31v1407zm63 0h-31v-1407h31v1407zm157 0h-63v-1407h63v1407zm157 0h-63v-1407h63v1407zm126 0h-63v-1407h63v1407zm126 0h-63v-1407h63v1407zm94 0h-63v-1407h63v1407zm189 0h-94v-1407h94v1407zm63 0h-32v-1407h32v1407zm94 1h-63v-1408h63v1408z"/></svg>
<svg style="left:2008.75px;top:800.80px;" width="15.20" height="22.00" viewBox="384 128 1024 1536" preserveAspectRatio="none"><path fill="#0f72b5" d="M1152 640q0-106-75-181t-181-75-181 75-75 181 75 181 181 75 181-75 75-181zm256 0q0 109-33 179l-364 774q-16 33-47.500 52t-67.500 19-67.500-19-46.500-52l-365-774q-33-70-33-179 0-212 150-362t362-150 362 150 150 362z"/></svg>
<div style="left:149px;top:844.94px;width:2210.25px;height:69.94px;background:#f9f9f9;"></div>
<div style="left:149px;top:844.94px;width:2210.25px;height:2px;background:#f4f4f4;"></div>
<svg style="left:165.00px;top:870.63px;" width="26.25" height="20.00" viewBox="0 128 1792 1408" preserveAspectRatio="none"><path fill="#333" d="M63 1536h-63v-1408h63v1408zm63-1h-32v-1407h32v1407zm94 0h-31v-1407h31v1407zm157 0h-31v-1407h31v1407zm157 0h-62v-1407h62v1407zm126 0h-31v-1407h31v1407zm63 0h-31v-1407h31v1407zm63 0h-31v-1407h31v1407zm157 0h-63v-1407h63v1407zm157 0h-63v-1407h63v1407zm126 0h-63v-1407h63v1407zm126 0h-63v-1407h63v1407zm94 0h-63v-1407h63v1407zm189 0h-94v-1407h94v1407zm63 0h-32v-1407h32v1407zm94 1h-63v-1408h63v1408z"/></svg>
<svg style="left:1463.00px;top:870.63px;" width="26.25" height="20.00" viewBox="0 128 1792 1408" preserveAspectRatio="none"><path fill="#3c8dbc" d="M63 1536h-63v-1408h63v1408zm63-1h-32v-1407h32v1407zm94 0h-31v-1407h31v1407zm157 0h-31v-1407h31v1407zm157 0h-62v-1407h62v1407zm126 0h-31v-1407h31v1407zm63 0h-31v-1407h31v1407zm63 0h-31v-1407h31v1407zm157 0h-63v-1407h63v1407zm157 0h-63v-1407h63v1407zm126 0h-63v-1407h63v1407zm126 0h-63v-1407h63v1407zm94 0h-63v-1407h63v1407zm189 0h-94v-1407h94v1407zm63 0h-32v-1407h32v1407zm94 1h-63v-1408h63v1408z"/></svg>
<svg style="left:2009.25px;top:871.25px;" width="18.25" height="21.75" viewBox="256 128 1280 1536" preserveAspectRatio="none"><path fill="#0f72b5" d="M1536 1399q0 109-62.500 187t-150.500 78h-854q-88 0-150.500-78t-62.500-187q0-85 8.500-160.500t31.500-152 58.500-131 94-89 134.500-34.500q131 128 313 128t313-128q76 0 134.500 34.500t94 89 58.500 131 31.500 152 8.500 160.500zm-256-887q0 159-112.500 271.500t-271.500 112.500-271.500-112.500-112.500-271.500 112.500-271.500 271.500-112.500 271.500 112.500 112.500 271.500z"/></svg>
<div style="left:149px;top:914.88px;width:2210.25px;height:2px;background:#f4f4f4;"></div>
<svg style="left:165.00px;top:940.57px;" width="26.25" height="20.00" viewBox="0 128 1792 1408" preserveAspectRatio="none"><path fill="#333" d="M63 1536h-63v-1408h63v1408zm63-1h-32v-1407h32v1407zm94 0h-31v-1407h31v1407zm157 0h-31v-1407h31v1407zm157 0h-62v-1407h62v1407zm126 0h-31v-1407h31v1407zm63 0h-31v-1407h31v1407zm63 0h-31v-1407h31v1407zm157 0h-63v-1407h63v1407zm157 0h-63v-1407h63v1407zm126 0h-63v-1407h63v1407zm126 0h-63v-1407h63v1407zm94 0h-63v-1407h63v1407zm189 0h-94v-1407h94v1407zm63 0h-32v-1407h32v1407zm94 1h-63v-1408h63v1408z"/></svg>
<svg style="left:1463.00px;top:940.57px;" width="26.25" height="20.00" viewBox="0 128 1792 1408" preserveAspectRatio="none"><path fill="#3c8dbc" d="M63 1536h-63v-1408h63v1408zm63-1h-32v-1407h32v1407zm94 0h-31v-1407h31v1407zm157 0h-31v-1407h31v1407zm157 0h-62v-1407h62v1407zm126 0h-31v-1407h31v1407zm63 0h-31v-1407h31v1407zm63 0h-31v-1407h31v1407zm157 0h-63v-1407h63v1407zm157 0h-63v-1407h63v1407zm126 0h-63v-1407h63v1407zm126 0h-63v-1407h63v1407zm94 0h-63v-1407h63v1407zm189 0h-94v-1407h94v1407zm63 0h-32v-1407h32v1407zm94 1h-63v-1408h63v1408z"/></svg>
<svg style="left:2008.75px;top:941.05px;" width="15.20" height="22.00" viewBox="384 128 1024 1536" preserveAspectRatio="none"><path fill="#0f72b5" d="M1152 640q0-106-75-181t-181-75-181 75-75 181 75 181 181 75 181-75 75-181zm256 0q0 109-33 179l-364 774q-16 33-47.500 52t-67.500 19-67.500-19-46.500-52l-365-774q-33-70-33-179 0-212 150-362t362-150 362 150 150 362z"/></svg>
<div style="left:149px;top:984.82px;width:2210.25px;height:69.94px;background:#f9f9f9;"></div>
<div style="left:149px;top:984.82px;width:2210.25px;height:2px;background:#f4f4f4;"></div>
<svg style="left:165.00px;top:1010.51px;" width="26.25" height="20.00" viewBox="0 128 1792 1408" preserveAspectRatio="none"><path fill="#333" d="M63 1536h-63v-1408h63v1408zm63-1h-32v-1407h32v1407zm94 0h-31v-1407h31v1407zm157 0h-31v-1407h31v1407zm157 0h-62v-1407h62v1407zm126 0h-31v-1407h31v1407zm63 0h-31v-1407h31v1407zm63 0h-31v-1407h31v1407zm157 0h-63v-1407h63v1407zm157 0h-63v-1407h63v1407zm126 0h-63v-1407h63v1407zm126 0h-63v-1407h63v1407zm94 0h-63v-1407h63v1407zm189 0h-94v-1407h94v1407zm63 0h-32v-1407h32v1407zm94 1h-63v-1408h63v1408z"/></svg>
<svg style="left:1463.00px;top:1010.51px;" width="26.25" height="20.00" viewBox="0 128 1792 1408" preserveAspectRatio="none"><path fill="#3c8dbc" d="M63 1536h-63v-1408h63v1408zm63-1h-32v-1407h32v1407zm94 0h-31v-1407h31v1407zm157 0h-31v-1407h31v1407zm157 0h-62v-1407h62v1407zm126 0h-31v-1407h31v1407zm63 0h-31v-1407h31v1407zm63 0h-31v-1407h31v1407zm157 0h-63v-1407h63v1407zm157 0h-63v-1407h63v1407zm126 0h-63v-1407h63v1407zm126 0h-63v-1407h63v1407zm94 0h-63v-1407h63v1407zm189 0h-94v-1407h94v1407zm63 0h-32v-1407h32v1407zm94 1h-63v-1408h63v1408z"/></svg>
<svg style="left:2009.25px;top:1011.25px;" width="18.25" height="21.75" viewBox="256 128 1280 1536" preserveAspectRatio="none"><path fill="#0f72b5" d="M1536 1399q0 109-62.500 187t-150.500 78h-854q-88 0-150.500-78t-62.500-187q0-85 8.500-160.500t31.500-152 58.500-131 94-89 134.500-34.500q131 128 313 128t313-128q76 0 134.500 34.500t94 89 58.500 131 31.500 152 8.500 160.500zm-256-887q0 159-112.500 271.500t-271.500 112.500-271.500-112.500-112.500-271.500 112.500-271.500 271.500-112.500 271.500 112.500 112.500 271.500z"/></svg>
<div style="left:149px;top:1054.76px;width:2210.25px;height:2px;background:#f4f4f4;"></div>
<svg style="left:165.00px;top:1080.45px;" width="26.25" height="20.00" viewBox="0 128 1792 1408" preserveAspectRatio="none"><path fill="#333" d="M63 1536h-63v-1408h63v1408zm63-1h-32v-1407h32v1407zm94 0h-31v-1407h31v1407zm157 0h-31v-1407h31v1407zm157 0h-62v-1407h62v1407zm126 0h-31v-1407h31v1407zm63 0h-31v-1407h31v1407zm63 0h-31v-1407h31v1407zm157 0h-63v-1407h63v1407zm157 0h-63v-1407h63v1407zm126 0h-63v-1407h63v1407zm126 0h-63v-1407h63v1407zm94 0h-63v-1407h63v1407zm189 0h-94v-1407h94v1407zm63 0h-32v-1407h32v1407zm94 1h-63v-1408h63v1408z"/></svg>
<svg style="left:1463.00px;top:1080.45px;" width="26.25" height="20.00" viewBox="0 128 1792 1408" preserveAspectRatio="none"><path fill="#3c8dbc" d="M63 1536h-63v-1408h63v1408zm63-1h-32v-1407h32v1407zm94 0h-31v-1407h31v1407zm157 0h-31v-1407h31v1407zm157 0h-62v-1407h62v1407zm126 0h-31v-1407h31v1407zm63 0h-31v-1407h31v1407zm63 0h-31v-1407h31v1407zm157 0h-63v-1407h63v1407zm157 0h-63v-1407h63v1407zm126 0h-63v-1407h63v1407zm126 0h-63v-1407h63v1407zm94 0h-63v-1407h63v1407zm189 0h-94v-1407h94v1407zm63 0h-32v-1407h32v1407zm94 1h-63v-1408h63v1408z"/></svg>
<svg style="left:2009.25px;top:1081.00px;" width="18.25" height="21.75" viewBox="256 128 1280 1536" preserveAspectRatio="none"><path fill="#0f72b5" d="M1536 1399q0 109-62.500 187t-150.500 78h-854q-88 0-150.500-78t-62.500-187q0-85 8.500-160.500t31.500-152 58.500-131 94-89 134.500-34.500q131 128 313 128t313-128q76 0 134.500 34.500t94 89 58.500 131 31.500 152 8.500 160.500zm-256-887q0 159-112.500 271.500t-271.500 112.500-271.500-112.500-112.500-271.500 112.500-271.500 271.500-112.500 271.500 112.500 112.500 271.500z"/></svg>
<div style="left:149px;top:1124.7px;width:2210.25px;height:69.94px;background:#f9f9f9;"></div>
<div style="left:149px;top:1124.7px;width:2210.25px;height:2px;background:#f4f4f4;"></div>
<svg style="left:165.00px;top:1150.39px;" width="26.25" height="20.00" viewBox="0 128 1792 1408" preserveAspectRatio="none"><path fill="#333" d="M63 1536h-63v-1408h63v1408zm63-1h-32v-1407h32v1407zm94 0h-31v-1407h31v1407zm157 0h-31v-1407h31v1407zm157 0h-62v-1407h62v1407zm126 0h-31v-1407h31v1407zm63 0h-31v-1407h31v1407zm63 0h-31v-1407h31v1407zm157 0h-63v-1407h63v1407zm157 0h-63v-1407h63v1407zm126 0h-63v-1407h63v1407zm126 0h-63v-1407h63v1407zm94 0h-63v-1407h63v1407zm189 0h-94v-1407h94v1407zm63 0h-32v-1407h32v1407zm94 1h-63v-1408h63v1408z"/></svg>
<svg style="left:1463.00px;top:1150.39px;" width="26.25" height="20.00" viewBox="0 128 1792 1408" preserveAspectRatio="none"><path fill="#3c8dbc" d="M63 1536h-63v-1408h63v1408zm63-1h-32v-1407h32v1407zm94 0h-31v-1407h31v1407zm157 0h-31v-1407h31v1407zm157 0h-62v-1407h62v1407zm126 0h-31v-1407h31v1407zm63 0h-31v-1407h31v1407zm63 0h-31v-1407h31v1407zm157 0h-63v-1407h63v1407zm157 0h-63v-1407h63v1407zm126 0h-63v-1407h63v1407zm126 0h-63v-1407h63v1407zm94 0h-63v-1407h63v1407zm189 0h-94v-1407h94v1407zm63 0h-32v-1407h32v1407zm94 1h-63v-1408h63v1408z"/></svg>
<svg style="left:2009.25px;top:1151.00px;" width="18.25" height="21.75" viewBox="256 128 1280 1536" preserveAspectRatio="none"><path fill="#0f72b5" d="M1536 1399q0 109-62.500 187t-150.500 78h-854q-88 0-150.500-78t-62.500-187q0-85 8.500-160.500t31.500-152 58.500-131 94-89 134.500-34.500q131 128 313 128t313-128q76 0 134.500 34.500t94 89 58.500 131 31.500 152 8.500 160.500zm-256-887q0 159-112.500 271.500t-271.500 112.500-271.500-112.500-112.500-271.500 112.500-271.500 271.500-112.500 271.500 112.500 112.500 271.500z"/></svg>
<div style="left:149px;top:1194.64px;width:2210.25px;height:2px;background:#f4f4f4;"></div>
<svg style="left:165.00px;top:1220.33px;" width="26.25" height="20.00" viewBox="0 128 1792 1408" preserveAspectRatio="none"><path fill="#333" d="M63 1536h-63v-1408h63v1408zm63-1h-32v-1407h32v1407zm94 0h-31v-1407h31v1407zm157 0h-31v-1407h31v1407zm157 0h-62v-1407h62v1407zm126 0h-31v-1407h31v1407zm63 0h-31v-1407h31v1407zm63 0h-31v-1407h31v1407zm157 0h-63v-1407h63v1407zm157 0h-63v-1407h63v1407zm126 0h-63v-1407h63v1407zm126 0h-63v-1407h63v1407zm94 0h-63v-1407h63v1407zm189 0h-94v-1407h94v1407zm63 0h-32v-1407h32v1407zm94 1h-63v-1408h63v1408z"/></svg>
<svg style="left:1463.00px;top:1220.33px;" width="26.25" height="20.00" viewBox="0 128 1792 1408" preserveAspectRatio="none"><path fill="#3c8dbc" d="M63 1536h-63v-1408h63v1408zm63-1h-32v-1407h32v1407zm94 0h-31v-1407h31v1407zm157 0h-31v-1407h31v1407zm157 0h-62v-1407h62v1407zm126 0h-31v-1407h31v1407zm63 0h-31v-1407h31v1407zm63 0h-31v-1407h31v1407zm157 0h-63v-1407h63v1407zm157 0h-63v-1407h63v1407zm126 0h-63v-1407h63v1407zm126 0h-63v-1407h63v1407zm94 0h-63v-1407h63v1407zm189 0h-94v-1407h94v1407zm63 0h-32v-1407h32v1407zm94 1h-63v-1408h63v1408z"/></svg>
<svg style="left:2009.25px;top:1221.00px;" width="18.25" height="21.75" viewBox="256 128 1280 1536" preserveAspectRatio="none"><path fill="#0f72b5" d="M1536 1399q0 109-62.500 187t-150.500 78h-854q-88 0-150.500-78t-62.500-187q0-85 8.500-160.500t31.500-152 58.500-131 94-89 134.500-34.500q131 128 313 128t313-128q76 0 134.500 34.500t94 89 58.500 131 31.500 152 8.500 160.500zm-256-887q0 159-112.500 271.500t-271.500 112.500-271.500-112.500-112.500-271.500 112.500-271.500 271.500-112.500 271.500 112.500 112.500 271.500z"/></svg>
<div style="left:149px;top:1264.58px;width:2210.25px;height:69.94px;background:#f9f9f9;"></div>
<div style="left:149px;top:1264.58px;width:2210.25px;height:2px;background:#f4f4f4;"></div>
<svg style="left:165.00px;top:1290.27px;" width="26.25" height="20.00" viewBox="0 128 1792 1408" preserveAspectRatio="none"><path fill="#333" d="M63 1536h-63v-1408h63v1408zm63-1h-32v-1407h32v1407zm94 0h-31v-1407h31v1407zm157 0h-31v-1407h31v1407zm157 0h-62v-1407h62v1407zm126 0h-31v-1407h31v1407zm63 0h-31v-1407h31v1407zm63 0h-31v-1407h31v1407zm157 0h-63v-1407h63v1407zm157 0h-63v-1407h63v1407zm126 0h-63v-1407h63v1407zm126 0h-63v-1407h63v1407zm94 0h-63v-1407h63v1407zm189 0h-94v-1407h94v1407zm63 0h-32v-1407h32v1407zm94 1h-63v-1408h63v1408z"/></svg>
<svg style="left:1463.00px;top:1290.27px;" width="26.25" height="20.00" viewBox="0 128 1792 1408" preserveAspectRatio="none"><path fill="#3c8dbc" d="M63 1536h-63v-1408h63v1408zm63-1h-32v-1407h32v1407zm94 0h-31v-1407h31v1407zm157 0h-31v-1407h31v1407zm157 0h-62v-1407h62v1407zm126 0h-31v-1407h31v1407zm63 0h-31v-1407h31v1407zm63 0h-31v-1407h31v1407zm157 0h-63v-1407h63v1407zm157 0h-63v-1407h63v1407zm126 0h-63v-1407h63v1407zm126 0h-63v-1407h63v1407zm94 0h-63v-1407h63v1407zm189 0h-94v-1407h94v1407zm63 0h-32v-1407h32v1407zm94 1h-63v-1408h63v1408z"/></svg>
<svg style="left:2008.75px;top:1290.80px;" width="15.20" height="22.00" viewBox="384 128 1024 1536" preserveAspectRatio="none"><path fill="#0f72b5" d="M1152 640q0-106-75-181t-181-75-181 75-75 181 75 181 181 75 181-75 75-181zm256 0q0 109-33 179l-364 774q-16 33-47.500 52t-67.500 19-67.500-19-46.500-52l-365-774q-33-70-33-179 0-212 150-362t362-150 362 150 150 362z"/></svg>
<div style="left:149px;top:1334.52px;width:2210.25px;height:2px;background:#f4f4f4;"></div>
<svg style="left:165.00px;top:1360.21px;" width="26.25" height="20.00" viewBox="0 128 1792 1408" preserveAspectRatio="none"><path fill="#333" d="M63 1536h-63v-1408h63v1408zm63-1h-32v-1407h32v1407zm94 0h-31v-1407h31v1407zm157 0h-31v-1407h31v1407zm157 0h-62v-1407h62v1407zm126 0h-31v-1407h31v1407zm63 0h-31v-1407h31v1407zm63 0h-31v-1407h31v1407zm157 0h-63v-1407h63v1407zm157 0h-63v-1407h63v1407zm126 0h-63v-1407h63v1407zm126 0h-63v-1407h63v1407zm94 0h-63v-1407h63v1407zm189 0h-94v-1407h94v1407zm63 0h-32v-1407h32v1407zm94 1h-63v-1408h63v1408z"/></svg>
<svg style="left:1463.00px;top:1360.21px;" width="26.25" height="20.00" viewBox="0 128 1792 1408" preserveAspectRatio="none"><path fill="#3c8dbc" d="M63 1536h-63v-1408h63v1408zm63-1h-32v-1407h32v1407zm94 0h-31v-1407h31v1407zm157 0h-31v-1407h31v1407zm157 0h-62v-1407h62v1407zm126 0h-31v-1407h31v1407zm63 0h-31v-1407h31v1407zm63 0h-31v-1407h31v1407zm157 0h-63v-1407h63v1407zm157 0h-63v-1407h63v1407zm126 0h-63v-1407h63v1407zm126 0h-63v-1407h63v1407zm94 0h-63v-1407h63v1407zm189 0h-94v-1407h94v1407zm63 0h-32v-1407h32v1407zm94 1h-63v-1408h63v1408z"/></svg>
<svg style="left:2009.25px;top:1361.00px;" width="18.25" height="21.75" viewBox="256 128 1280 1536" preserveAspectRatio="none"><path fill="#0f72b5" d="M1536 1399q0 109-62.500 187t-150.500 78h-854q-88 0-150.500-78t-62.500-187q0-85 8.500-160.500t31.500-152 58.500-131 94-89 134.500-34.500q131 128 313 128t313-128q76 0 134.500 34.500t94 89 58.500 131 31.500 152 8.500 160.500zm-256-887q0 159-112.500 271.500t-271.500 112.500-271.500-112.500-112.500-271.500 112.500-271.500 271.500-112.500 271.500 112.500 112.500 271.500z"/></svg>
<div style="left:149px;top:1404.46px;width:2210.25px;height:2px;background:#f4f4f4;"></div>
<div style="left:149px;top:1406.46px;width:2210.25px;height:14.14px;background:#f9f9f9;"></div>
<div style="left:147px;top:1442px;width:2214px;height:59.6px;background:#3c8dbc;border:2px solid #367fa9;border-radius:6px;box-sizing:border-box;"></div>
<span style="left:145.31px;top:542.02px;font-size:36.75px;font-weight:normal;color:#444;letter-spacing:0.000px;transform:scaleX(0.9817);transform-origin:0 0;">Recent Activity</span>
<span style="left:225.50px;top:652.02px;font-size:27px;font-weight:bold;color:#333;letter-spacing:-0.002px;">Date</span>
<span style="left:754.25px;top:652.02px;font-size:27px;font-weight:bold;color:#333;letter-spacing:-0.562px;">Admin</span>
<span style="left:1111.75px;top:652.02px;font-size:27px;font-weight:bold;color:#333;letter-spacing:-0.350px;">Action</span>
<span style="left:1465.25px;top:652.02px;font-size:27px;font-weight:bold;color:#333;letter-spacing:0.747px;">Item</span>
<span style="left:2012.00px;top:652.02px;font-size:27px;font-weight:bold;color:#333;letter-spacing:-0.004px;">Target</span>
<span style="left:228.40px;top:730.01px;font-size:26.25px;font-weight:normal;color:#333;letter-spacing:-0.070px;">Wed Nov 15, 2017 8:21PM</span>
<span style="left:753.25px;top:730.01px;font-size:26.25px;font-weight:normal;color:#3c8dbc;letter-spacing:0.152px;">Admin User</span>
<span style="left:1109.50px;top:730.01px;font-size:26.25px;font-weight:normal;color:#333;letter-spacing:0.747px;">checkout</span>
<span style="left:1496.00px;top:729.01px;font-size:26.5px;font-weight:normal;color:#3c8dbc;letter-spacing:0.492px;">Macbook Pro 13&quot; (797765004)</span>
<span style="left:2040.00px;top:732.00px;font-size:23.75px;font-weight:normal;color:#477aa6;letter-spacing:0.000px;transform:scaleX(1.0136);transform-origin:0 0;">Ahmedabad Office</span>
<span style="left:228.40px;top:800.00px;font-size:26.25px;font-weight:normal;color:#333;letter-spacing:0.194px;">Wed Nov 15, 2017 6:28AM</span>
<span style="left:752.25px;top:800.00px;font-size:26.25px;font-weight:normal;color:#3c8dbc;letter-spacing:0.047px;">Snipe E. Head</span>
<span style="left:1109.50px;top:800.00px;font-size:26.25px;font-weight:normal;color:#333;letter-spacing:0.747px;">checkout</span>
<span style="left:1496.00px;top:799.01px;font-size:26.5px;font-weight:normal;color:#3c8dbc;letter-spacing:0.385px;">Macbook Pro 13&quot; (768329122)</span>
<span style="left:2036.99px;top:798.00px;font-size:23.75px;font-weight:normal;color:#477aa6;letter-spacing:0.000px;transform:scaleX(1.0118);transform-origin:0 0;">Mumbai Office</span>
<span style="left:226.40px;top:870.00px;font-size:26.25px;font-weight:normal;color:#333;letter-spacing:0.309px;">Mon Nov 13, 2017 8:08PM</span>
<span style="left:753.25px;top:870.00px;font-size:26.25px;font-weight:normal;color:#3c8dbc;letter-spacing:0.152px;">Admin User</span>
<span style="left:1109.50px;top:870.00px;font-size:26.25px;font-weight:normal;color:#333;letter-spacing:0.747px;">checkout</span>
<span style="left:1496.00px;top:869.00px;font-size:26.5px;font-weight:normal;color:#3c8dbc;letter-spacing:0.364px;">Macbook Pro 13&quot; (1188075520)</span>
<span style="left:2036.25px;top:871.00px;font-size:23.75px;font-weight:normal;color:#477aa6;letter-spacing:0.000px;transform:scaleX(1.0175);transform-origin:0 0;">Ahmedabad Office</span>
<span style="left:227.40px;top:940.01px;font-size:26.25px;font-weight:normal;color:#333;letter-spacing:0.202px;">Sun Nov 12, 2017 9:59AM</span>
<span style="left:752.25px;top:940.01px;font-size:26.25px;font-weight:normal;color:#3c8dbc;letter-spacing:0.047px;">Snipe E. Head</span>
<span style="left:1109.50px;top:940.01px;font-size:26.25px;font-weight:normal;color:#333;letter-spacing:0.747px;">checkout</span>
<span style="left:1497.00px;top:939.00px;font-size:26.5px;font-weight:normal;color:#3c8dbc;letter-spacing:0.399px;">iMac Pro (1300163465)</span>
<span style="left:2031.98px;top:939.00px;font-size:23.75px;font-weight:normal;color:#477aa6;letter-spacing:0.000px;transform:scaleX(1.0151);transform-origin:0 0;">Mumbai Office</span>
<span style="left:227.40px;top:1010.01px;font-size:26.25px;font-weight:normal;color:#333;letter-spacing:-0.077px;">Sat Nov 11, 2017 8:15PM</span>
<span style="left:752.25px;top:1010.01px;font-size:26.25px;font-weight:normal;color:#3c8dbc;letter-spacing:0.047px;">Snipe E. Head</span>
<span style="left:1109.50px;top:1010.01px;font-size:26.25px;font-weight:normal;color:#333;letter-spacing:0.747px;">checkout</span>
<span style="left:1496.00px;top:1009.00px;font-size:26.5px;font-weight:normal;color:#3c8dbc;letter-spacing:0.309px;">Macbook Pro 13&quot; (111258238)</span>
<span style="left:2040.50px;top:1012.00px;font-size:23.75px;font-weight:normal;color:#477aa6;letter-spacing:0.000px;transform:scaleX(1.0149);transform-origin:0 0;">Ahmedabad Office</span>
<span style="left:226.40px;top:1080.01px;font-size:26.25px;font-weight:normal;color:#333;letter-spacing:0.125px;">Fri Nov 10, 2017 6:07PM</span>
<span style="left:753.25px;top:1080.01px;font-size:26.25px;font-weight:normal;color:#3c8dbc;letter-spacing:0.152px;">Admin User</span>
<span style="left:1109.50px;top:1080.01px;font-size:26.25px;font-weight:normal;color:#333;letter-spacing:0.747px;">checkout</span>
<span style="left:1497.00px;top:1078.01px;font-size:26.5px;font-weight:normal;color:#3c8dbc;letter-spacing:0.375px;">iPhone 6s (156708576)</span>
<span style="left:2035.73px;top:1079.01px;font-size:23.75px;font-weight:normal;color:#477aa6;letter-spacing:0.000px;transform:scaleX(1.0151);transform-origin:0 0;">Mumbai Office</span>
<span style="left:226.40px;top:1150.01px;font-size:26.25px;font-weight:normal;color:#333;letter-spacing:-0.361px;">Fri Nov 10, 2017 11:17AM</span>
<span style="left:753.25px;top:1150.01px;font-size:26.25px;font-weight:normal;color:#3c8dbc;letter-spacing:0.152px;">Admin User</span>
<span style="left:1109.50px;top:1150.01px;font-size:26.25px;font-weight:normal;color:#333;letter-spacing:0.747px;">checkout</span>
<span style="left:1496.00px;top:1148.01px;font-size:26.5px;font-weight:normal;color:#3c8dbc;letter-spacing:0.291px;">Macbook Pro 13&quot; (1235412784)</span>
<span style="left:2036.00px;top:1151.01px;font-size:23.75px;font-weight:normal;color:#477aa6;letter-spacing:0.000px;transform:scaleX(1.0187);transform-origin:0 0;">Ahmedabad Office</span>
<span style="left:228.40px;top:1220.00px;font-size:26.25px;font-weight:normal;color:#333;letter-spacing:0.326px;">Wed Nov 08, 2017 2:29AM</span>
<span style="left:752.25px;top:1220.00px;font-size:26.25px;font-weight:normal;color:#3c8dbc;letter-spacing:0.047px;">Snipe E. Head</span>
<span style="left:1109.50px;top:1220.00px;font-size:26.25px;font-weight:normal;color:#333;letter-spacing:0.747px;">checkout</span>
<span style="left:1496.00px;top:1218.01px;font-size:26.5px;font-weight:normal;color:#3c8dbc;letter-spacing:0.184px;">Macbook Pro 13&quot; (1016720401)</span>
<span style="left:2035.73px;top:1220.01px;font-size:23.75px;font-weight:normal;color:#477aa6;letter-spacing:0.000px;transform:scaleX(1.0151);transform-origin:0 0;">Mumbai Office</span>
<span style="left:227.40px;top:1290.00px;font-size:26.25px;font-weight:normal;color:#333;letter-spacing:0.252px;">Sun Nov 05, 2017 7:38PM</span>
<span style="left:753.25px;top:1290.00px;font-size:26.25px;font-weight:normal;color:#3c8dbc;letter-spacing:0.152px;">Admin User</span>
<span style="left:1109.50px;top:1290.00px;font-size:26.25px;font-weight:normal;color:#333;letter-spacing:0.747px;">checkout</span>
<span style="left:1496.00px;top:1288.01px;font-size:26.5px;font-weight:normal;color:#3c8dbc;letter-spacing:0.364px;">Macbook Pro 13&quot; (1137749686)</span>
<span style="left:2036.00px;top:1291.01px;font-size:23.75px;font-weight:normal;color:#477aa6;letter-spacing:0.000px;transform:scaleX(1.0187);transform-origin:0 0;">Ahmedabad Office</span>
<span style="left:227.40px;top:1359.01px;font-size:26.25px;font-weight:normal;color:#333;letter-spacing:0.085px;">Sat Nov 04, 2017 10:13PM</span>
<span style="left:752.25px;top:1359.01px;font-size:26.25px;font-weight:normal;color:#3c8dbc;letter-spacing:0.047px;">Snipe E. Head</span>
<span style="left:1109.50px;top:1359.01px;font-size:26.25px;font-weight:normal;color:#333;letter-spacing:0.747px;">checkout</span>
<span style="left:1496.00px;top:1358.00px;font-size:26.5px;font-weight:normal;color:#3c8dbc;letter-spacing:0.608px;">Macbook Pro 13&quot; (706396632)</span>
<span style="left:2036.49px;top:1360.01px;font-size:23.75px;font-weight:normal;color:#477aa6;letter-spacing:0.000px;transform:scaleX(1.0135);transform-origin:0 0;">Mumbai Office</span>
<span style="left:1210.00px;top:1459.00px;font-size:25.25px;font-weight:normal;color:#fff;letter-spacing:-0.077px;">View All</span>
</section>
<div id="annotation" style="left:0;top:0;width:0;height:0">
<div style="left:2315px;top:3px;width:94.6px;height:97.5px;background:transparent;border:7px solid #f62f6b;box-sizing:border-box;border-radius:4px;box-shadow:0 1px 3px rgba(0,0,0,.25);"></div>
<svg style="left:1700px;top:40px;filter:drop-shadow(0 2px 2px rgba(0,0,0,.25))" width="660" height="140" viewBox="1700 40 660 140"><path d="M1739 150.3 L2275.4 79.5 L2271.7 67.4 L2319.8 84.7 L2276.2 113.8 L2278.2 102.1 L1739.5 153.6 Q1737.5 152 1739 150.3 Z" fill="#f62f6b"/></svg>
<svg style="left:1340px;top:100px;overflow:visible;filter:drop-shadow(0 2.5px 2px rgba(0,0,0,.38))" width="420" height="100" viewBox="1340 100 420 100"><text transform="translate(1365.8 162.9) scale(0.961 1)" font-family="Liberation Sans, sans-serif" font-weight="bold" font-size="49.4" fill="#f62f6b" stroke="#fff" stroke-width="9.2" stroke-linejoin="round" paint-order="stroke" textLength="363.6" lengthAdjust="spacing">Admin Settings</text></svg>
</div>
</div></body></html>
